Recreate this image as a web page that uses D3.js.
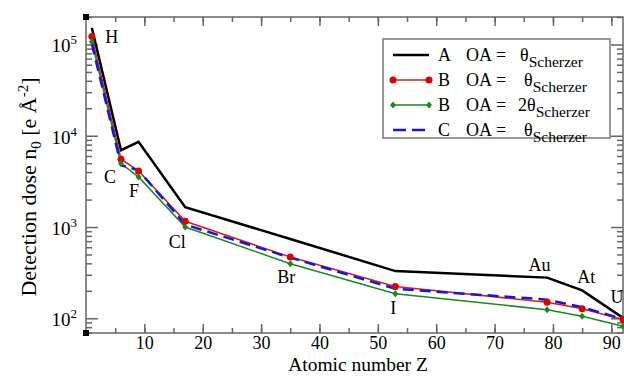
<!DOCTYPE html>
<html>
<head>
<meta charset="utf-8">
<script src="https://cdn.jsdelivr.net/npm/d3@7"></script>
<style>
  body { margin: 0; background: #fff; }
  svg { display: block; }
  svg text { font-family: 'Liberation Serif', 'Times New Roman', serif; fill: #000; }
</style>
</head>
<body>
<svg id="chart" width="624" height="376"></svg>
<script>
// element labels and atomic numbers
const elements = ['H', 'C', 'F', 'Cl', 'Br', 'I', 'Au', 'At', 'U']
const atomicZ = [1, 6, 9, 17, 35, 53, 79, 85, 92]

// detection dose n0 [e/A^2]
const doseA = [152000, 6950, 8570, 1645, 740, 329, 279, 202, 101]
const doseB = [122000, 5530, 4120, 1155, 469, 223, 150, 127, 97]
const doseB2 = [107000, 4960, 3540, 1000, 396, 186, 124, 105, 82]
const doseC = [102000, 4750, 4190, 1063, 462, 211, 160, 132, 98]

const xTicks = [10, 20, 30, 40, 50, 60, 70, 80, 90]
const yTicks = [2, 3, 4, 5] // exponents

const series = [
  { name: 'A', prefix: '', values: doseA, color: '#000', width: 2.5, dash: null, marker: null },
  { name: 'B', prefix: '', values: doseB, color: '#d42020', width: 1.5, dash: null, marker: 'circle' },
  { name: 'B', prefix: '2', values: doseB2, color: '#1a8a1a', width: 1.5, dash: null, marker: 'diamond' },
  { name: 'C', prefix: '', values: doseC, color: '#1515e0', width: 2.5, dash: '11,6', marker: null }
]

// label offsets (px) relative to the red series point
const labelOffset = {
  H: [20, 6], C: [-11, 24], F: [-4.5, 26], Cl: [-8, 27], Br: [-4, 26],
  I: [-2, 27], Au: [-7.5, -31], At: [4, -25.5], U: [-6, -16]
}

const svg = d3.select('#chart')
const mLeft = 86, mRight = 623, mTop = 17, mBottom = 333

const x = d3.scaleLinear().domain([0, 92]).range([mLeft, mRight])
const y = d3.scaleLog().domain([69, 200000]).range([mBottom, mTop])

const axisColor = '#666'

// frame
svg.append('rect')
  .attr('x', mLeft).attr('y', mTop)
  .attr('width', mRight - mLeft).attr('height', mBottom - mTop)
  .attr('fill', 'none').attr('stroke', axisColor).attr('stroke-width', 1.5)

// axes (ticks inward)
const minorX = d3.range(5, 92, 5)
const g = svg.append('g')

g.append('g').attr('transform', `translate(0,${mBottom})`)
  .call(d3.axisBottom(x).tickValues(minorX).tickSize(-5).tickFormat(''))
g.append('g').attr('class', 'xlab').attr('transform', `translate(0,${mBottom})`)
  .call(d3.axisBottom(x).tickValues(xTicks).tickSize(-9).tickPadding(3).tickFormat(d3.format('d')))
g.append('g').attr('transform', `translate(0,${mTop})`)
  .call(d3.axisTop(x).tickValues(minorX).tickSize(-5).tickFormat(''))
g.append('g').attr('transform', `translate(0,${mTop})`)
  .call(d3.axisTop(x).tickValues(xTicks).tickSize(-9).tickFormat(''))

const minorY = []
for (let e = 1; e <= 5; e++) for (let m = 2; m <= 9; m++) {
  const v = m * Math.pow(10, e)
  if (v >= 69 && v <= 200000) minorY.push(v)
}
const majorY = yTicks.map(e => Math.pow(10, e))

g.append('g').attr('transform', `translate(${mLeft},0)`)
  .call(d3.axisLeft(y).tickValues(minorY).tickSize(-6).tickFormat(''))
g.append('g').attr('transform', `translate(${mLeft},0)`)
  .call(d3.axisLeft(y).tickValues(majorY).tickSize(-12).tickFormat(''))
g.append('g').attr('transform', `translate(${mRight},0)`)
  .call(d3.axisRight(y).tickValues(minorY).tickSize(-6).tickFormat(''))
g.append('g').attr('transform', `translate(${mRight},0)`)
  .call(d3.axisRight(y).tickValues(majorY).tickSize(-12).tickFormat(''))

g.selectAll('.domain').remove()
g.selectAll('.tick line').attr('stroke', axisColor).attr('stroke-width', 1.5)
g.selectAll('.xlab .tick text').style('font-size', '18px')

// y tick labels as powers of ten
const yl = svg.append('g')
yTicks.forEach(e => {
  const t = yl.append('text')
    .attr('x', mLeft - 9).attr('y', y(Math.pow(10, e)) + 8)
    .attr('text-anchor', 'end').style('font-size', '19px')
  t.append('tspan').text('10')
  t.append('tspan').attr('dy', -8).style('font-size', '13px').text(e)
})

// corner markers
;[mTop, mBottom].forEach(yy => {
  svg.append('rect').attr('x', mLeft - 3).attr('y', yy - 3)
    .attr('width', 6).attr('height', 6).attr('fill', '#000')
})

// lines
const pts = vals => atomicZ.map((z, i) => [z, vals[i]])
const line = d3.line().x(d => x(d[0])).y(d => y(d[1]))

const plot = svg.append('g')
series.forEach(s => {
  plot.append('path')
    .datum(pts(s.values))
    .attr('d', line)
    .attr('fill', 'none')
    .attr('stroke', s.color)
    .attr('stroke-width', s.width)
    .attr('stroke-dasharray', s.dash)
})

const drawMarker = (sel, type, cx, cy, color) => {
  if (type === 'circle') {
    sel.append('circle').attr('cx', cx).attr('cy', cy).attr('r', 3.5).attr('fill', '#e00000')
  } else if (type === 'diamond') {
    sel.append('path')
      .attr('d', `M${cx},${cy - 3.5}L${cx + 3},${cy}L${cx},${cy + 3.5}L${cx - 3},${cy}Z`)
      .attr('fill', color)
  }
}

series.forEach(s => {
  if (!s.marker) return
  pts(s.values).forEach(d => drawMarker(plot, s.marker, x(d[0]), y(d[1]), s.color))
})

// element labels
elements.forEach((el, i) => {
  const o = labelOffset[el]
  svg.append('text')
    .attr('x', x(atomicZ[i]) + o[0])
    .attr('y', y(doseB[i]) + o[1])
    .attr('text-anchor', 'middle')
    .style('font-size', '18px')
    .text(el)
})

// legend
const lg = svg.append('g')
lg.append('rect')
  .attr('x', 383).attr('y', 39).attr('width', 227).attr('height', 99)
  .attr('fill', '#fff').attr('stroke', '#777').attr('stroke-width', 1.5)

series.forEach((s, i) => {
  const ly = 55 + i * 25
  lg.append('line')
    .attr('x1', 393).attr('x2', 429).attr('y1', ly).attr('y2', ly)
    .attr('stroke', s.color).attr('stroke-width', s.width)
    .attr('stroke-dasharray', s.dash ? '13,6' : null)
  if (s.marker) {
    drawMarker(lg, s.marker, 393, ly, s.color)
    drawMarker(lg, s.marker, 429, ly, s.color)
  }
  const ty = ly + 6
  lg.append('text').attr('x', 438).attr('y', ty).style('font-size', '18px').text(s.name)
  lg.append('text').attr('x', 466).attr('y', ty).style('font-size', '18px').text('OA')
  lg.append('text').attr('x', 496).attr('y', ty).style('font-size', '18px').text('=')
  const t = lg.append('text')
    .attr('x', s.prefix ? 518 : (i === 0 ? 520 : 524)).attr('y', ty).style('font-size', '18px')
  t.append('tspan').text(s.prefix + 'θ')
  t.append('tspan').attr('dy', 6).style('font-size', '15.5px').text('Scherzer')
})

// axis titles
svg.append('text')
  .attr('x', 358).attr('y', 371)
  .attr('text-anchor', 'middle').style('font-size', '19.5px')
  .text('Atomic number Z')

const yt = svg.append('text')
  .attr('transform', 'translate(36,187) rotate(-90)')
  .attr('text-anchor', 'middle').style('font-size', '22px')
yt.append('tspan').text('Detection dose n')
yt.append('tspan').attr('dy', 5).style('font-size', '15px').text('0')
yt.append('tspan').attr('dy', -5).text(' [e Å')
yt.append('tspan').attr('dy', -8).style('font-size', '15px').text('-2')
yt.append('tspan').attr('dy', 8).text(']')
</script>
</body>
</html>
